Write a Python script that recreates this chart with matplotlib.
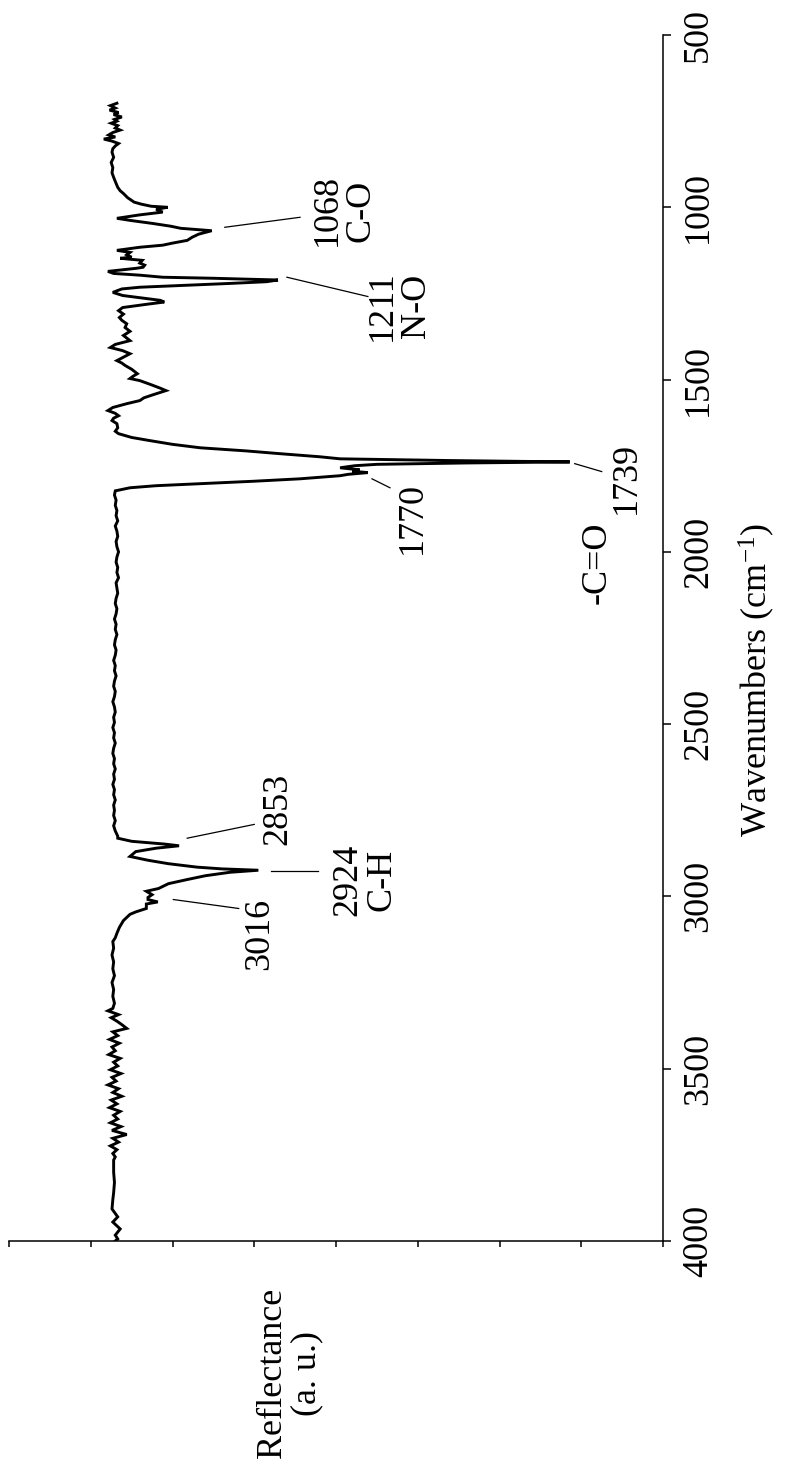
import matplotlib
matplotlib.use("Agg")
import matplotlib.pyplot as plt

plt.rcParams["font.family"] = ["Liberation Serif", "DejaVu Serif"]
plt.rcParams["mathtext.fontset"] = "custom"
plt.rcParams["mathtext.rm"] = "Liberation Serif"
plt.rcParams["mathtext.it"] = "Liberation Serif:italic"

# IR reflectance spectrum, split by region (wavenumber in cm-1, reflectance a.u.)
wn_fingerprint = [
    698, 705, 712, 718, 725, 731, 738, 745, 750, 756, 763, 770, 776, 783, 790,
    796, 802, 808, 815, 822, 830, 840, 855, 870, 885, 900, 913, 925, 942, 952,
    960, 972, 985, 991, 997, 1000, 1006, 1014, 1022, 1032, 1038, 1047, 1055,
    1061, 1068, 1078, 1087, 1096, 1104, 1110, 1116, 1125, 1131, 1138, 1145,
    1148, 1154, 1162, 1168, 1174, 1177, 1183, 1186, 1192, 1197, 1203, 1206,
    1211, 1216, 1221, 1227, 1232, 1237, 1247, 1256, 1264, 1270, 1275, 1281,
    1291, 1300, 1310, 1320, 1328, 1338, 1349, 1360, 1372, 1387, 1398, 1407,
    1416, 1425, 1435, 1445, 1452, 1459, 1470, 1483, 1490, 1497, 1503, 1515,
    1525, 1532, 1545, 1553, 1561, 1570, 1581, 1590, 1598, 1605, 1612, 1619,
    1628, 1640, 1650, 1657, 1668, 1677, 1688, 1698, 1707, 1715, 1724, 1730,
    1735, 1739, 1742, 1746, 1750, 1756, 1762, 1766, 1770, 1775, 1779, 1788,
    1795, 1802, 1808, 1814, 1823,
]
r_fingerprint = [
    6.68, 6.76, 6.70, 6.77, 6.66, 6.72, 6.62, 6.71, 6.68, 6.75, 6.67, 6.70, 6.64, 6.73, 6.78,
    6.70, 6.84, 6.74, 6.66, 6.70, 6.73, 6.74, 6.72, 6.75, 6.73, 6.74, 6.72, 6.70, 6.67, 6.64,
    6.60, 6.55, 6.47, 6.38, 6.26, 6.06, 6.20, 6.12, 6.40, 6.68, 6.52, 6.24, 6.02,
    5.90, 5.52, 5.68, 5.76, 5.82, 6.00, 6.12, 6.40, 6.68, 6.52, 6.56, 6.50,
    6.64, 6.37, 6.40, 6.34, 6.36, 6.44, 6.68, 6.79, 6.72, 6.40, 6.12, 5.50,
    4.71, 4.85, 5.30, 5.90, 6.40, 6.62, 6.73, 6.61, 6.35, 6.15, 6.10, 6.30,
    6.61, 6.66, 6.60, 6.65, 6.62, 6.56, 6.58, 6.52, 6.60, 6.52, 6.70, 6.76,
    6.61, 6.52, 6.60, 6.68, 6.62, 6.58, 6.50, 6.43, 6.48, 6.52, 6.40, 6.26,
    6.15, 6.08, 6.25, 6.35, 6.40, 6.56, 6.73, 6.79, 6.70, 6.66, 6.72, 6.74,
    6.68, 6.67, 6.70, 6.66, 6.50, 6.28, 6.00, 5.66, 5.10, 4.69, 4.20, 3.95,
    2.61, 1.14, 2.40, 3.50, 3.77, 3.95, 3.71, 3.80, 3.61, 3.85, 3.95, 4.44,
    5.00, 5.66, 6.20, 6.52, 6.70,
]

wn_flat = [
    1835, 1850, 1865, 1880, 1895, 1910, 1925, 1940, 1955, 1970, 1985, 2000,
    2015, 2030, 2045, 2060, 2075, 2090, 2105, 2120, 2135, 2150, 2165, 2180,
    2195, 2210, 2225, 2240, 2255, 2270, 2285, 2300, 2315, 2330, 2345, 2360,
    2375, 2390, 2405, 2420, 2435, 2450, 2465, 2480, 2495, 2510, 2525, 2540,
    2555, 2570, 2585, 2600, 2615, 2630, 2645, 2660, 2675, 2690, 2705, 2720,
    2735, 2750, 2765, 2780, 2795, 2810, 2825,
]
r_flat = [
    6.71, 6.69, 6.70, 6.68, 6.69, 6.67, 6.70, 6.68, 6.67, 6.69, 6.68, 6.66,
    6.68, 6.69, 6.67, 6.68, 6.66, 6.69, 6.68, 6.67, 6.69, 6.70, 6.68, 6.69,
    6.71, 6.69, 6.70, 6.68, 6.70, 6.71, 6.69, 6.70, 6.72, 6.70, 6.71, 6.69,
    6.71, 6.72, 6.70, 6.71, 6.73, 6.71, 6.70, 6.72, 6.71, 6.73, 6.71, 6.72,
    6.70, 6.72, 6.73, 6.71, 6.72, 6.70, 6.72, 6.71, 6.73, 6.71, 6.72, 6.70,
    6.72, 6.71, 6.72, 6.70, 6.72, 6.70, 6.67,
]

wn_ch = [
    2831, 2840, 2848, 2853, 2860, 2870, 2884, 2895, 2905, 2915, 2920, 2924,
    2930, 2940, 2951, 2963, 2977, 2985, 2995, 3003, 3009, 3016, 3022, 3035,
    3045, 3052, 3070, 3090, 3107, 3120, 3131, 3150, 3170, 3190, 3210, 3230,
    3250, 3270, 3290, 3310, 3325,
]
r_ch = [
    6.67, 6.50, 6.10, 5.92, 6.20, 6.45, 6.52, 6.30, 6.05, 5.70, 5.40, 4.95,
    5.30, 5.60, 5.82, 6.05, 6.17, 6.32, 6.25, 6.30, 6.30, 6.18, 6.32, 6.32,
    6.45, 6.52, 6.60, 6.65, 6.68, 6.70, 6.73, 6.72, 6.74, 6.72, 6.73, 6.71,
    6.74, 6.72, 6.73, 6.71, 6.73,
]

wn_oh = [
    3332, 3343, 3352, 3362, 3372, 3383, 3393, 3404, 3415, 3426, 3437, 3448,
    3459, 3470, 3481, 3492, 3503, 3514, 3525, 3536, 3547, 3558, 3569, 3580,
    3591, 3602, 3613, 3624, 3635, 3646, 3657, 3668, 3679, 3691, 3702, 3713,
    3724, 3735, 3746, 3756, 3765, 3780, 3800, 3830, 3860, 3880, 3907, 3930,
    3945, 3965, 3983, 3994, 4000,
]
r_oh = [
    6.79, 6.66, 6.75, 6.68, 6.62, 6.56, 6.73, 6.67, 6.77, 6.65, 6.74, 6.70,
    6.78, 6.64, 6.72, 6.67, 6.76, 6.63, 6.74, 6.69, 6.79, 6.66, 6.73, 6.62,
    6.75, 6.68, 6.77, 6.64, 6.72, 6.67, 6.76, 6.63, 6.74, 6.56, 6.73, 6.66,
    6.76, 6.68, 6.73, 6.70, 6.72, 6.72, 6.72, 6.71, 6.72, 6.73, 6.74, 6.67,
    6.73, 6.64, 6.70, 6.67, 6.70,
]

wavenumber = wn_fingerprint + wn_flat + wn_ch + wn_oh
reflectance = r_fingerprint + r_flat + r_ch + r_oh

wn_ticks = [500, 1000, 1500, 2000, 2500, 3000, 3500, 4000]
refl_ticks = [0, 1, 2, 3, 4, 5, 6, 7, 8]

# Peak labels: text, label position (reflectance, wavenumber), leader line ends
peak_labels = ["1068\nC-O", "1211\nN-O", "1770", "1739", "-C=O",
               "2853", "2924\nC-H", "3016"]
label_pos = [(3.90, 1009), (3.22, 1285), (3.06, 1901), (0.45, 1785),
             (0.81, 2032), (4.71, 2747), (3.65, 2951), (4.93, 3108)]
leaders = [((5.36, 1058), (4.44, 1029)),
           ((4.60, 1203), (3.61, 1259)),
           ((3.56, 1788), (3.34, 1814)),
           ((1.08, 1744), (0.75, 1767)),
           None,
           ((5.82, 2831), (5.00, 2791)),
           ((4.80, 2926), (4.22, 2926)),
           ((5.99, 3009), (5.19, 3035))]

W, H = 786, 1467
fig = plt.figure(figsize=(W / 100, H / 100), dpi=100)
ax = fig.add_axes([9 / W, (H - 1241) / H, 654 / W, 1206 / H])

ax.plot(reflectance, wavenumber, color="black", lw=2.1, solid_joinstyle="miter")

ax.set_xlim(8, 0)
ax.set_ylim(4000, 500)

for side in ("left", "top"):
    ax.spines[side].set_visible(False)
for side in ("right", "bottom"):
    ax.spines[side].set_linewidth(1.1)

ax.set_xticks(refl_ticks)
ax.set_xticklabels([])
ax.tick_params(axis="x", direction="out", length=4.5, width=1.1)

ax.yaxis.tick_right()
ax.set_yticks(wn_ticks)
ax.set_yticklabels([str(t) for t in wn_ticks])
ax.tick_params(axis="y", direction="out", length=5.8, width=1.1,
               labelsize=26, labelrotation=90, pad=8)
for lab in ax.get_yticklabels():
    lab.set_verticalalignment("center")

for text, (tx, ty), seg in zip(peak_labels, label_pos, leaders):
    ax.text(tx, ty, text, rotation=90, ha="center", va="center",
            multialignment="center", fontsize=26, linespacing=1.05)
    if seg is not None:
        (x0, y0), (x1, y1) = seg
        ax.plot([x0, x1], [y0, y1], color="black", lw=0.9)

fig.text(757 / W, 1 - 680 / H, r"Wavenumbers (cm$^{\mathrm{-1}}$)",
         rotation=90, ha="center", va="center", fontsize=26)
fig.text(290 / W, 1 - 1373 / H, "Reflectance\n(a. u.)", rotation=90,
         ha="center", va="center", multialignment="center", fontsize=26,
         linespacing=1.05)

fig.savefig("out.png", dpi=100, facecolor="white")
